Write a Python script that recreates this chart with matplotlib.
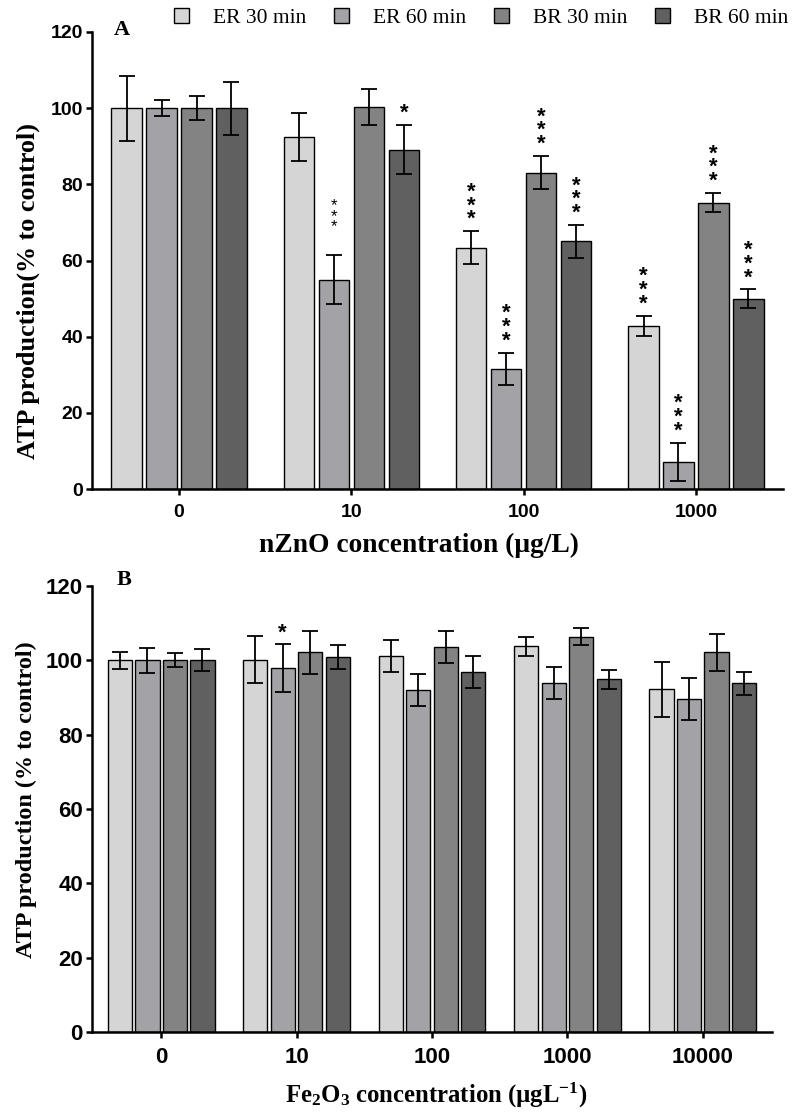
import matplotlib
matplotlib.use("Agg")
import matplotlib.pyplot as plt
from matplotlib.patches import Patch
import numpy as np

plt.rcParams['mathtext.fontset'] = 'custom'
plt.rcParams['mathtext.rm'] = 'Liberation Serif:bold'
plt.rcParams['mathtext.bf'] = 'Liberation Serif:bold'
plt.rcParams['mathtext.it'] = 'Liberation Serif:bold'

series = ["ER 30 min", "ER 60 min", "BR 30 min", "BR 60 min"]
colors = ["#d5d5d5", "#a3a3a7", "#838383", "#606060"]

# Panel A: nZnO
cats_a = ["0", "10", "100", "1000"]
vals_a = [
    [100.0, 92.3, 63.4, 42.9],
    [100.0, 55.0, 31.5, 7.1],
    [100.0, 100.4, 83.1, 75.2],
    [100.0, 89.1, 65.0, 50.0],
]
errs_a = [
    [8.5, 6.3, 4.3, 2.6],
    [2.1, 6.5, 4.3, 5.1],
    [3.2, 4.7, 4.3, 2.5],
    [7.0, 6.5, 4.3, 2.4],
]
stars_a = [
    ["", "", "***", "***"],
    ["", "***", "***", "***"],
    ["", "", "***", "***"],
    ["", "*", "***", "***"],
]

# Panel B: Fe2O3
cats_b = ["0", "10", "100", "1000", "10000"]
vals_b = [
    [100.0, 100.2, 101.2, 103.8, 92.2],
    [100.0, 97.9, 92.0, 93.9, 89.6],
    [100.0, 102.2, 103.6, 106.4, 102.2],
    [100.0, 100.9, 96.8, 94.9, 93.8],
]
errs_b = [
    [2.2, 6.4, 4.3, 2.5, 7.4],
    [3.4, 6.4, 4.3, 4.2, 5.7],
    [1.9, 5.8, 4.3, 2.4, 5.0],
    [3.0, 3.3, 4.3, 2.5, 3.1],
]
stars_b = [
    ["", "", "", "", ""],
    ["", "*", "", "", ""],
    ["", "", "", "", ""],
    ["", "", "", "", ""],
]

W, H = 792, 1112
fig = plt.figure(figsize=(W / 100, H / 100), dpi=100)


def px_axes(l, r, t, b):
    return fig.add_axes([l / W, 1 - b / H, (r - l) / W, (b - t) / H])


def draw(ax, cats, vals, errs, stars, width, pitch, tick_fs, small_first=None):
    x = np.arange(len(cats))
    for i in range(4):
        xs = x + (i - 1.5) * pitch
        ax.bar(xs, vals[i], width, color=colors[i], edgecolor="black",
               linewidth=1.0, zorder=2)
        ax.errorbar(xs, vals[i], yerr=errs[i], fmt="none", ecolor="black",
                    elinewidth=1.3, capsize=5.5, capthick=1.3, zorder=3)
        for j, s in enumerate(stars[i]):
            if not s:
                continue
            top = vals[i][j] + errs[i][j]
            fs, ls, off, fw = 16, 0.55, 0.3, "bold"
            if small_first is not None and (i, j) == small_first:
                fs, ls, off, fw = 12, 0.6, 5.5, "normal"
            txt = "\n".join(list(s))
            ax.text(xs[j], top + off, txt, ha="center", va="bottom",
                    fontsize=fs, fontfamily="Liberation Sans",
                    fontweight=fw, linespacing=ls, zorder=4)
    ax.set_xticks(x)
    ax.set_xticklabels(cats)
    ax.set_ylim(0, 120)
    ax.set_yticks([0, 20, 40, 60, 80, 100, 120])
    for sp in ["top", "right"]:
        ax.spines[sp].set_visible(False)
    for sp in ["left", "bottom"]:
        ax.spines[sp].set_linewidth(1.8)
    ax.tick_params(axis="both", width=1.8, length=4.5, direction="out")
    ax.tick_params(axis="x", pad=6)
    ax.tick_params(axis="y", pad=2)
    for lab in ax.get_xticklabels() + ax.get_yticklabels():
        lab.set_fontfamily("Liberation Sans")
        lab.set_fontweight("bold")
        lab.set_fontsize(tick_fs)


# Panel A
axA = px_axes(92, 783, 32, 489)
draw(axA, cats_a, vals_a, errs_a, stars_a, 0.175, 0.203, 14, small_first=(1, 1))
axA.set_xlim(-0.505, 3.505)

# Panel B
axB = px_axes(92, 772, 586, 1032)
draw(axB, cats_b, vals_b, errs_b, stars_b, 0.18, 0.203, 16)
axB.set_xlim(-0.51, 4.51)

# Labels
fig.text(28 / W, 1 - 291 / H, "ATP production(% to control)", rotation=90,
         ha="center", va="center", fontsize=18.8, fontfamily="Liberation Serif",
         fontweight="bold")
fig.text(419 / W, 1 - 545 / H, "nZnO concentration (μg/L)", ha="center",
         va="center", fontsize=19.8, fontfamily="Liberation Serif",
         fontweight="bold")
fig.text(26 / W, 1 - 800 / H, "ATP production (% to control)", rotation=90,
         ha="center", va="center", fontsize=17.4, fontfamily="Liberation Serif",
         fontweight="bold")
fig.text(436 / W, 1 - 1095 / H,
         r"Fe$_{2}$O$_{3}$ concentration (µgL$^{-1}$)", ha="center",
         va="center", fontsize=17.8, fontfamily="Liberation Serif",
         fontweight="bold")
fig.text(122 / W, 1 - 30 / H, "A", ha="center", va="center", fontsize=16,
         fontfamily="Liberation Serif", fontweight="bold")
fig.text(124 / W, 1 - 580 / H, "B", ha="center", va="center", fontsize=16,
         fontfamily="Liberation Serif", fontweight="bold")

handles = [Patch(facecolor=c, edgecolor="black", linewidth=1.0) for c in colors]
leg = fig.legend(handles, series, loc="center", ncol=4,
                 bbox_to_anchor=(481 / W, 1 - 18 / H), frameon=False,
                 handlelength=0.7, handleheight=0.7, handletextpad=1.1,
                 columnspacing=1.3, prop={"family": "Liberation Serif", "size": 15.5})

fig.savefig("out.png", dpi=100)
